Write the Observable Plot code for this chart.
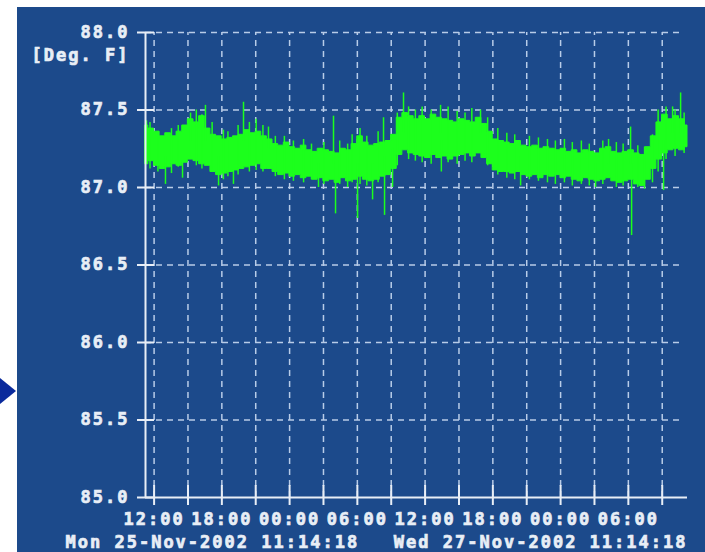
<!DOCTYPE html>
<html><head><meta charset="utf-8">
<script src="https://cdn.jsdelivr.net/npm/d3@7"></script>
<script src="https://cdn.jsdelivr.net/npm/@observablehq/plot@0.6"></script>
<style>
html,body{margin:0;padding:0;background:#fff;}
#wrap{position:relative;width:705px;height:552px;overflow:hidden;}
#panel{position:absolute;left:17px;top:7px;width:688px;height:545px;background:#1c4a8b;}
#arrow{position:absolute;left:0;top:378px;width:0;height:0;border-top:13px solid transparent;border-bottom:13px solid transparent;border-left:16px solid #0a2a9c;}
#chart{position:absolute;left:0;top:0;}
#chart text{stroke:#e8eef6;stroke-width:0.7px;}
</style></head><body>
<div id="wrap"><div id="panel"></div><div id="arrow"></div><div id="chart"></div></div>
<script>
// ---- data ----
const startTime = "2002-11-25T11:14:18Z";
const endTime = "2002-11-27T11:14:18Z";
const startLabel = "Mon 25-Nov-2002 11:14:18";
const endLabel = "Wed 27-Nov-2002 11:14:18";
const unitLabel = "[Deg. F]";
const sampleStepHours = 0.5;
const yTicks = [85.0, 85.5, 86.0, 86.5, 87.0, 87.5, 88.0];
const bandHigh = [
  87.40, 87.38, 87.36, 87.33, 87.35, 87.33, 87.36, 87.40, 87.44, 87.42,
  87.46, 87.38, 87.34, 87.33, 87.31, 87.32, 87.33, 87.34, 87.37, 87.35,
  87.36, 87.33, 87.31, 87.28, 87.27, 87.29, 87.26, 87.25, 87.27, 87.24,
  87.23, 87.25, 87.24, 87.23, 87.22, 87.25, 87.24, 87.28, 87.33, 87.29,
  87.27, 87.28, 87.29, 87.30, 87.34, 87.45, 87.48, 87.46, 87.44, 87.46,
  87.44, 87.47, 87.45, 87.44, 87.43, 87.42, 87.44, 87.43, 87.42, 87.45,
  87.41, 87.36, 87.31, 87.30, 87.29, 87.28, 87.30, 87.27, 87.26, 87.27,
  87.25, 87.26, 87.25, 87.24, 87.25, 87.23, 87.24, 87.22, 87.24, 87.23,
  87.22, 87.25, 87.26, 87.23, 87.22, 87.23, 87.24, 87.22, 87.21, 87.26,
  87.33, 87.42, 87.47, 87.44, 87.46, 87.44, 87.40
];
const bandLow = [
  87.15, 87.17, 87.14, 87.12, 87.13, 87.15, 87.14, 87.16, 87.18, 87.17,
  87.15, 87.14, 87.10, 87.08, 87.09, 87.10, 87.11, 87.12, 87.13, 87.14,
  87.15, 87.12, 87.12, 87.10, 87.08, 87.09, 87.07, 87.08, 87.06, 87.07,
  87.05, 87.06, 87.04, 87.05, 87.03, 87.06, 87.04, 87.05, 87.07, 87.05,
  87.04, 87.05, 87.07, 87.08, 87.12, 87.21, 87.24, 87.22, 87.21, 87.20,
  87.19, 87.21, 87.19, 87.20, 87.18, 87.20, 87.21, 87.22, 87.20, 87.22,
  87.19, 87.15, 87.11, 87.10, 87.10, 87.09, 87.10, 87.08, 87.07, 87.08,
  87.06, 87.08, 87.07, 87.08, 87.06, 87.07, 87.05, 87.04, 87.06, 87.05,
  87.04, 87.05, 87.06, 87.04, 87.03, 87.04, 87.05, 87.02, 87.01, 87.05,
  87.12, 87.18, 87.22, 87.24, 87.25, 87.24, 87.26
];
// large spikes
const spikeHours = [0.09, 1.77, 3.28, 3.99, 5.31, 6.47, 7.79, 8.68, 10.89, 15.32,
  16.65, 16.83, 18.78, 20.11, 21.08, 21.17, 21.88, 22.85, 26.13, 26.20,
  29.67, 33.22, 39.86, 41.01, 42.96, 43.05, 45.88, 46.68, 47.39];
const spikeValues = [87.43, 87.02, 87.06, 87.48, 87.53, 87.01, 87.02, 87.55, 87.39, 87.00,
  87.46, 86.83, 86.80, 86.92, 87.45, 86.82, 87.00, 87.61, 87.53, 87.10,
  87.50, 87.01, 87.00, 87.31, 87.39, 86.69, 86.98, 87.52, 87.61];
const spikeBase = [87.30, 87.20, 87.20, 87.30, 87.30, 87.20, 87.20, 87.30, 87.25, 87.15,
  87.15, 87.15, 87.15, 87.15, 87.25, 87.20, 87.25, 87.35, 87.35, 87.30,
  87.35, 87.20, 87.15, 87.15, 87.15, 87.15, 87.30, 87.35, 87.35];
// small noise excursions
const noiseHours = [0.4, 1.1, 2.3, 2.9, 4.5, 5.0, 5.9, 6.9, 7.3, 8.2,
  9.2, 9.8, 10.4, 11.5, 12.3, 13.1, 14.0, 14.7, 15.8, 17.2,
  17.9, 18.3, 19.0, 19.6, 20.6, 22.3, 23.3, 23.9, 24.5, 25.3,
  26.8, 27.6, 28.3, 28.9, 30.3, 31.2, 32.0, 32.7, 34.0, 34.8,
  35.6, 36.3, 37.1, 37.8, 38.6, 39.3, 40.5, 41.7, 42.3, 43.6,
  44.2, 44.9, 45.4, 46.1, 46.9, 47.7];
const noiseLow = [87.12, 87.10, 87.09, 87.13, 87.14, 87.12, 87.10, 87.05, 87.07, 87.08,
  87.10, 87.11, 87.10, 87.07, 87.05, 87.04, 87.03, 87.05, 87.02, 87.02,
  87.00, 87.03, 87.02, 87.01, 87.03, 87.14, 87.18, 87.17, 87.16, 87.15,
  87.16, 87.15, 87.17, 87.16, 87.14, 87.08, 87.06, 87.05, 87.05, 87.04,
  87.03, 87.02, 87.03, 87.01, 87.02, 87.01, 87.02, 87.00, 87.01, 87.00,
  86.99, 87.03, 87.10, 87.18, 87.20, 87.22];
const noiseHigh = [87.42, 87.36, 87.38, 87.40, 87.50, 87.47, 87.42, 87.37, 87.36, 87.40,
  87.42, 87.44, 87.40, 87.33, 87.33, 87.30, 87.31, 87.28, 87.29, 87.30,
  87.28, 87.34, 87.38, 87.33, 87.36, 87.48, 87.52, 87.50, 87.52, 87.50,
  87.52, 87.49, 87.48, 87.51, 87.45, 87.38, 87.35, 87.34, 87.33, 87.32,
  87.31, 87.30, 87.31, 87.29, 87.30, 87.28, 87.30, 87.29, 87.28, 87.27,
  87.26, 87.34, 87.50, 87.52, 87.50, 87.48];

// ---- build ----
const t0 = new Date(startTime), t1 = new Date(endTime);
const H = 3600e3;
const band = bandHigh.map((hi, i) => ({t: new Date(+t0 + i * sampleStepHours * H), hi, lo: bandLow[i]}));
const spikes = spikeHours.map((h, i) => ({t: new Date(+t0 + h * H), v: spikeValues[i], b: spikeBase[i]}));
const noise = noiseHours.map((h, i) => ({t: new Date(+t0 + h * H), lo: noiseLow[i], hi: noiseHigh[i]}));
const gridTimes = d3.utcHour.every(3).range(t0, t1);
const labelTimes = d3.utcHour.every(6).range(t0, t1);
const fg = "#e8eef6", gridC = "#b8cce8", green = "#1cff1c";
const fmt = d3.utcFormat("%H:%M");

const chart = Plot.plot({
  width: 705, height: 552,
  marginLeft: 145, marginTop: 32, marginRight: 18, marginBottom: 55,
  style: {background: "transparent", color: fg, fontFamily: "'DejaVu Sans Mono', monospace", fontWeight: "bold", letterSpacing: "2px"},
  x: {type: "utc", domain: [t0, t1]},
  y: {domain: [85, 88]},
  marks: [
    Plot.ruleY(yTicks.filter(d => d > 85), {y: d => d, x1: t0, x2: t1, stroke: gridC, strokeWidth: 1.5, strokeDasharray: "6,5", insetRight: 6}),
    Plot.ruleX(gridTimes, {x: d => d, y1: 85, y2: 88, stroke: gridC, strokeWidth: 1.5, strokeDasharray: "6,5"}),
    Plot.areaY(band, {x: "t", y1: "lo", y2: "hi", fill: green, stroke: green, strokeWidth: 1, curve: "step"}),
    Plot.ruleX(noise, {x: "t", y1: "lo", y2: "hi", stroke: green, strokeWidth: 1.5}),
    Plot.ruleX(spikes, {x: "t", y1: "b", y2: "v", stroke: green, strokeWidth: 1.5}),
    Plot.ruleX([t0], {stroke: fg, strokeWidth: 2}),
    Plot.ruleY([85], {stroke: fg, strokeWidth: 2}),
    Plot.ruleY(yTicks, {y: d => d, x1: t0, x2: t0, insetLeft: -8, insetRight: -9, stroke: fg, strokeWidth: 2}),
    Plot.ruleX(gridTimes, {x: d => d, y1: 85, y2: 85, insetTop: -12, insetBottom: -8, stroke: fg, strokeWidth: 2}),
    Plot.axisY({ticks: yTicks, tickSize: 0, tickPadding: 16, tickFormat: d3.format(".1f"), fontSize: 17, fontWeight: "bold", label: null}),
    Plot.axisX({ticks: labelTimes, tickSize: 0, tickPadding: 15, tickFormat: fmt, fontSize: 17, fontWeight: "bold", label: null}),
    Plot.text([unitLabel], {frameAnchor: "top-left", dx: -16, dy: 23, textAnchor: "end", lineAnchor: "middle", fontSize: 17, fontWeight: "bold", fill: fg}),
    Plot.text([startLabel], {frameAnchor: "bottom-left", dx: -80, dy: 45, textAnchor: "start", lineAnchor: "middle", fontSize: 17, fontWeight: "bold", fill: fg}),
    Plot.text([endLabel], {frameAnchor: "bottom-right", dx: 0, dy: 45, textAnchor: "end", lineAnchor: "middle", fontSize: 17, fontWeight: "bold", fill: fg})
  ]
});
document.getElementById("chart").appendChild(chart);
</script>
</body></html>
